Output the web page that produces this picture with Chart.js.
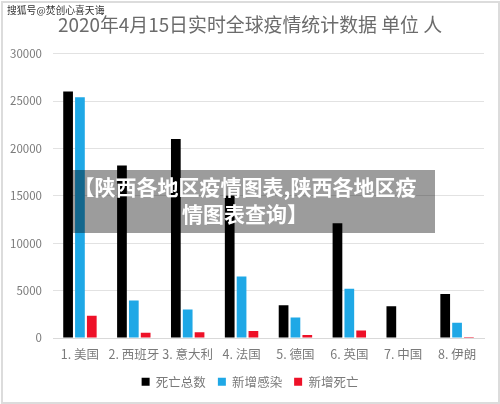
<!DOCTYPE html>
<html>
<head>
<meta charset="utf-8">
<script src="https://cdn.jsdelivr.net/npm/chart.js@4"></script>
<style>
    html, body { margin: 0; padding: 0; background: #fff; }
    #wrap { position: relative; width: 500px; height: 404px; overflow: hidden; font-family: "Noto Sans CJK SC", sans-serif; }
    #frame { position: absolute; left: 1px; top: 1px; width: 495px; height: 399px; border: 2px solid #dcdcdc; }
    canvas { position: absolute; left: 0; top: 0; }
    #mark { position: absolute; left: 7px; top: 3px; font-size: 9.8px; line-height: 14px; color: #333; white-space: nowrap; }
    #band { position: absolute; left: 73px; top: 170px; width: 362px; height: 63px; background: rgba(0, 0, 0, 0.39); color: #fff; font-size: 21px; font-weight: 700; line-height: 27px; text-align: center; padding: 3px 18px 0 0; box-sizing: border-box; white-space: nowrap; }
</style>
</head>
<body>
<div id="wrap">
    <div id="frame"></div>
    <canvas id="chart" width="500" height="404"></canvas>
    <div id="mark">搜狐号@焚创心喜天诲</div>
    <div id="band">【陕西各地区疫情图表,陕西各地区疫<br>情图表查询】</div>
</div>
<script>
const titleText = '2020年4月15日实时全球疫情统计数据 单位 人';
const categories = ['1. 美国', '2. 西班牙', '3. 意大利', '4. 法国', '5. 德国', '6. 英国', '7. 中国', '8. 伊朗'];
const totalDeaths = [26000, 18200, 21000, 15000, 3450, 12100, 3340, 4650];
const newCases = [25400, 3950, 3000, 6500, 2150, 5200, 0, 1600];
const newDeaths = [2350, 550, 600, 750, 320, 800, 0, 110];
const yTicks = [0, 5000, 10000, 15000, 20000, 25000, 30000];

const font = '"Noto Sans CJK SC", sans-serif';
const greyText = '#7a7a7a';

const makeSeries = (label, data, color) => ({
    label,
    data,
    backgroundColor: color,
    categoryPercentage: 0.66,
    barPercentage: 0.82
});

new Chart(document.getElementById('chart'), {
    type: 'bar',
    data: {
        labels: categories,
        datasets: [
            makeSeries('死亡总数', totalDeaths, '#000000'),
            makeSeries('新增感染', newCases, '#1fa8e6'),
            makeSeries('新增死亡', newDeaths, '#ee1128')
        ]
    },
    options: {
        responsive: false,
        animation: false,
        layout: { padding: { left: 0, right: 0, top: 0, bottom: 6 } },
        scales: {
            x: {
                afterFit: (axis) => { axis.height = 25.5; },
                grid: { display: false, drawTicks: false },
                border: { color: '#d9d9d9' },
                ticks: { color: greyText, font: { family: font, size: 12.5 }, maxRotation: 0, autoSkip: false, padding: 9 }
            },
            y: {
                min: 0,
                max: 30000,
                afterBuildTicks: (axis) => { axis.ticks = yTicks.map(value => ({ value })); },
                afterFit: (axis) => { axis.width = 53; },
                grid: { color: '#e2e2e2', lineWidth: 1, drawTicks: false },
                border: { display: false },
                ticks: { color: greyText, font: { family: font, size: 11.5 }, padding: 11, callback: (v) => String(v) }
            },
            // empty axis, keeps the plot off the right edge while title and legend stay centred
            ySpacer: {
                position: 'right',
                afterFit: (axis) => { axis.width = 16; },
                grid: { display: false },
                border: { display: false },
                ticks: { display: false }
            }
        },
        plugins: {
            title: {
                display: true,
                text: titleText,
                color: '#6b6b6b',
                font: { family: font, size: 18.9, weight: 'normal' },
                padding: { top: 13, bottom: 18 }
            },
            legend: {
                position: 'bottom',
                labels: { color: greyText, font: { family: font, size: 12.5 }, boxWidth: 8, boxHeight: 8, padding: 12 }
            },
            tooltip: { enabled: false }
        }
    }
});
</script>
</body>
</html>
